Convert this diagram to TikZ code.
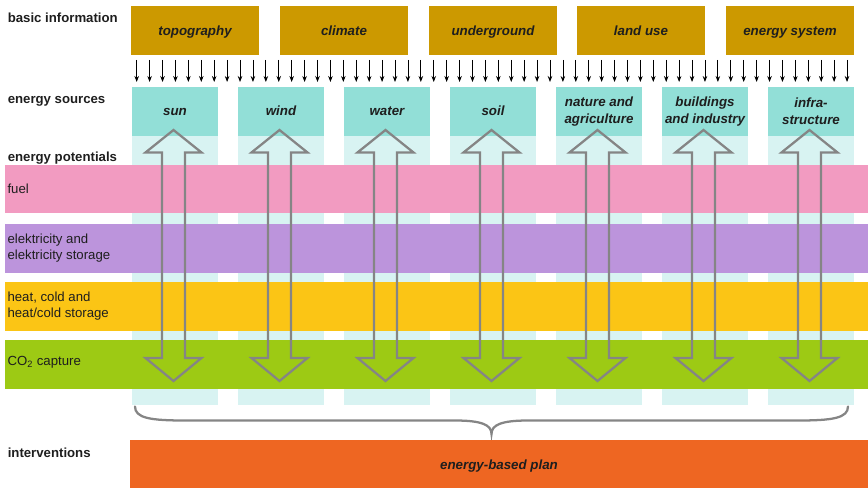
\documentclass[tikz,border=0pt]{standalone}
\usepackage{fontspec}
\setmainfont{Liberation Sans}
\usetikzlibrary{arrows.meta}
\definecolor{gold}{HTML}{CC9900}
\definecolor{srccol}{HTML}{92DFD7}
\definecolor{lightcol}{HTML}{D8F3F2}
\definecolor{fuelcol}{HTML}{F29BC1}
\definecolor{eleccol}{HTML}{BC94DC}
\definecolor{heatcol}{HTML}{FBC515}
\definecolor{co2col}{HTML}{9DCA14}
\definecolor{plancol}{HTML}{EE6622}
\definecolor{arrgray}{HTML}{858585}
\definecolor{txt}{HTML}{1E1E1E}
\tikzset{
  infobox/.style={fill=gold, minimum width=96pt, minimum height=36.75pt, inner sep=0pt, text=txt,
    text height=9pt, text depth=0.9pt,
    font=\fontsize{10}{12.5}\selectfont\bfseries\itshape},
  srcbox/.style={fill=srccol, minimum width=64.5pt, minimum height=36.75pt, inner sep=0pt, text=txt, align=center,
    font=\fontsize{10}{12.5}\selectfont\bfseries\itshape},
  srcone/.style={srcbox, text height=8pt, text depth=2.2pt},
  band/.style={minimum width=647.25pt, minimum height=36.4pt, inner sep=0pt, anchor=west},
  bandlabel/.style={anchor=west, align=left, inner sep=0pt, text=txt, font=\fontsize{9.9}{12.2}\selectfont},
  rowlabel/.style={anchor=west, inner sep=0pt, text=txt, text height=9pt, text depth=0.9pt,
    font=\fontsize{9.9}{12}\selectfont\bfseries},
  smallarrow/.style={-{Stealth[length=4.5pt,width=3.4pt]}, line width=0.6pt, black},
  dblarrow/.style={draw=arrgray, line width=1.7pt, line join=miter},
  bracestyle/.style={draw=arrgray, line width=1.7pt, line cap=round}
}
\begin{document}
\begin{tikzpicture}[x=0.75pt,y=-0.75pt]
\useasboundingbox (0,0) rectangle (868,488);

% row labels
\node[rowlabel] (lbasic) at (7.5,17) {basic information};
\node[rowlabel] (lsrc) at (7.5,98.5) {energy sources};
\node[rowlabel] (lpot) at (7.5,156) {energy potentials};
\node[rowlabel] (lint) at (7.5,452.5) {interventions};

% basic information boxes
\node[infobox] (topo) at (195,30.5) {topography};
\node[infobox] (clim) at (344,30.5) {climate};
\node[infobox] (under) at (493,30.5) {underground};
\node[infobox] (land) at (641,30.5) {land use};
\node[infobox] (esys) at (790,30.5) {energy system};

% small arrows
\foreach \i in {0,...,55} {
  \coordinate (sa\i) at ({136.7+12.915*\i},60);
  \coordinate (se\i) at ({136.7+12.915*\i},82);
  \draw[smallarrow] (sa\i) -- (se\i);
}

% light columns
\foreach \i in {0,...,6} {
  \fill[lightcol] ({132+106*\i},136) rectangle ({218+106*\i},405.5);
}

% energy sources
\node[srcone] (sun) at (175,111.5) {sun};
\node[srcone] (wind) at (281,111.5) {wind};
\node[srcone] (water) at (387,111.5) {water};
\node[srcone] (soil) at (493,111.5) {soil};
\node[srcbox] (nat) at (599,111.5) {nature and\\agriculture};
\node[srcbox] (bld) at (705,111.5) {buildings\\and industry};
\node[srcbox] (infra) at (811,111.5) {infra-\\structure};

% bands
\node[band, fill=fuelcol] (bfuel) at (5,189) {};
\node[band, fill=eleccol] (belec) at (5,248.3) {};
\node[band, fill=heatcol] (bheat) at (5,306.3) {};
\node[band, fill=co2col] (bco2) at (5,364.3) {};
\node[bandlabel] (tfuel) at (7.3,189) {fuel};
\node[bandlabel] (telec) at (7.3,248.3) {elektricity and\\elektricity storage};
\node[bandlabel] (theat) at (7.3,306.3) {heat, cold and\\heat/cold storage};
\node[bandlabel] (tco2) at (7.3,362.5) {CO\textsubscript{2} capture};

% double arrows
\foreach \i in {0,...,6} {
  \pgfmathsetmacro{\cx}{173.5+106*\i}
  \draw[dblarrow] (\cx,130) -- ({\cx+28},152.5) -- ({\cx+11.5},152.5) -- ({\cx+11.5},358)
    -- ({\cx+28},358) -- (\cx,381) -- ({\cx-28},358) -- ({\cx-11.5},358)
    -- ({\cx-11.5},152.5) -- ({\cx-28},152.5) -- cycle;
}

% brace
\coordinate (bl) at (135,406.5);
\coordinate (bt) at (491.5,434);
\coordinate (br) at (848,406.5);
\draw[bracestyle] (bl) .. controls (135,418) and (150,420.5) .. (185,420.5) -- (455,420.5)
  .. controls (482,420.5) and (491.5,425) .. (bt)
  .. controls (491.5,425) and (501,420.5) .. (528,420.5) -- (798,420.5)
  .. controls (833,420.5) and (848,418) .. (br);

% plan
\node[fill=plancol, minimum width=553.5pt, minimum height=36pt, inner sep=0pt, text=txt,
  text height=9pt, text depth=0.9pt,
  font=\fontsize{10}{12}\selectfont\bfseries\itshape] (plan) at (499,464) {energy-based plan};
\end{tikzpicture}
\end{document}
